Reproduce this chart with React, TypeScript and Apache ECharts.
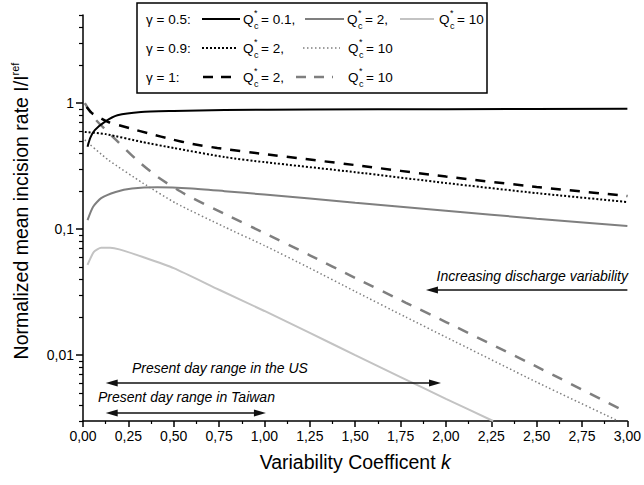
import React, { useEffect, useRef } from "react";
import * as echarts from "echarts";

const FONT = "'Liberation Sans', Arial, Helvetica, sans-serif";

// ---- data: [variability coefficient k, normalized incision rate I/I_ref]
const gamma05_Q01: [number, number][] = [
  [0.025, 0.45], [0.04, 0.53], [0.065, 0.61], [0.12, 0.71], [0.19, 0.8], [0.32, 0.85],
  [0.5, 0.865], [0.78, 0.88], [1.25, 0.89], [2.0, 0.895], [3.0, 0.9],
];
const gamma05_Q2: [number, number][] = [
  [0.025, 0.118], [0.055, 0.15], [0.1, 0.176], [0.18, 0.197], [0.27, 0.21], [0.41, 0.215],
  [0.6, 0.21], [0.78, 0.2], [1.0, 0.188], [1.5, 0.162], [2.0, 0.14], [2.5, 0.121], [3.0, 0.106],
];
const gamma05_Q10: [number, number][] = [
  [0.025, 0.052], [0.06, 0.066], [0.1, 0.071], [0.15, 0.071], [0.2, 0.069], [0.33, 0.06],
  [0.5, 0.049], [0.75, 0.033], [1.0, 0.0224], [1.25, 0.015], [1.5, 0.01], [1.75, 0.0067],
  [2.0, 0.0045], [2.26, 0.003],
];
const gamma09_Q2: [number, number][] = [
  [0.01, 0.59], [0.125, 0.567], [0.33, 0.49], [0.5, 0.44], [0.78, 0.373], [1.0, 0.34],
  [1.5, 0.283], [2.0, 0.232], [2.5, 0.193], [3.0, 0.164],
];
const gamma09_Q10: [number, number][] = [
  [0.01, 0.51], [0.14, 0.353], [0.33, 0.232], [0.51, 0.161], [0.78, 0.104], [1.0, 0.074],
  [1.25, 0.049], [1.5, 0.032], [1.78, 0.02], [2.0, 0.0139], [2.5, 0.0061], [2.95, 0.003],
];
const gamma1_Q2: [number, number][] = [
  [0.02, 0.93], [0.05, 0.83], [0.137, 0.71], [0.26, 0.63], [0.37, 0.57], [0.49, 0.515],
  [0.6, 0.475], [0.74, 0.44], [1.0, 0.394], [1.5, 0.322], [2.0, 0.261], [2.5, 0.216], [3.0, 0.183],
];
const gamma1_Q10: [number, number][] = [
  [0.01, 1.0], [0.066, 0.75], [0.176, 0.52], [0.3, 0.35], [0.41, 0.26], [0.56, 0.19],
  [0.78, 0.132], [1.0, 0.093], [1.25, 0.062], [1.5, 0.041], [1.78, 0.026], [2.0, 0.0183],
  [2.5, 0.0081], [3.0, 0.0035],
];

// ---- axes
const xMin = 0;
const xMax = 3;
const xInterval = 0.25;
const yMin = 0.003;
const yMax = 5;
const yMajorTicks = [0.01, 0.1, 1];
const yMajorLabels = ["0,01", "0,1", "1"];
const yMinorTicks = [
  0.003, 0.004, 0.005, 0.006, 0.007, 0.008, 0.009,
  0.02, 0.03, 0.04, 0.05, 0.06, 0.07, 0.08, 0.09,
  0.2, 0.3, 0.4, 0.5, 0.6, 0.7, 0.8, 0.9,
  2, 3, 4, 5,
];

// ---- annotation arrows (k range, level)
const usRange = [0.158, 1.94];
const usLevel = 0.006;
const taiwanRange = [0.158, 0.975];
const taiwanLevel = 0.00347;
const variabilityArrow = [3.0, 1.923];
const variabilityLevel = 0.0328;

const GRAY = "#7f7f7f";
const LIGHT = "#c3c3c3";

function lineSeries(name: string, data: [number, number][], color: string, width: number, type: any, extra: any = {}) {
  return {
    type: "line",
    name,
    data,
    xAxisIndex: 0,
    yAxisIndex: 0,
    symbol: "none",
    smooth: 0.2,
    clip: true,
    silent: true,
    lineStyle: { color, width, type },
    ...extra,
  };
}

function txt(x: number, y: number, text: string, size = 14, extra: any = {}) {
  return {
    type: "text",
    x,
    y,
    z: 101,
    silent: true,
    style: {
      text,
      fontSize: size,
      fontFamily: FONT,
      fill: "#000",
      align: "left",
      textAlign: "left",
      verticalAlign: "middle",
      textVerticalAlign: "middle",
      ...extra,
    },
  };
}

function qc(x: number, y: number, rest: string) {
  return [
    txt(x, y, "Q", 13.5),
    txt(x + 11, y - 6, "*", 9),
    txt(x + 11, y + 7, "c", 9),
    txt(x + 18, y, rest, 13.5),
  ];
}

function swatch(x1: number, x2: number, y: number, color: string, width: number, dash: number[] | null) {
  return {
    type: "line",
    z: 101,
    silent: true,
    shape: { x1, y1: y, x2, y2: y },
    style: { stroke: color, lineWidth: width, lineDash: dash || undefined },
  };
}

export default function App() {
  const ref = useRef<HTMLDivElement>(null);
  useEffect(() => {
    if (!ref.current) return;
    const chart = echarts.init(ref.current, undefined, { renderer: "svg" });
    const r1 = 19, r2 = 48, r3 = 77;
    const legend = [
      {
        type: "rect",
        z: 100,
        silent: true,
        shape: { x: 137, y: 3, width: 350, height: 90 },
        style: { fill: "#fff", stroke: "#000", lineWidth: 1.5 },
      },
      txt(146, r1, "γ = 0.5:", 13.5),
      swatch(202, 240, r1, "#000", 2.2, null),
      ...qc(243, r1, "= 0.1,"),
      swatch(305, 344, r1, GRAY, 2.2, null),
      ...qc(347, r1, "= 2,"),
      swatch(400, 434, r1, LIGHT, 2.2, null),
      ...qc(439, r1, "= 10"),

      txt(146, r2, "γ = 0.9:", 13.5),
      swatch(202, 238, r2, "#000", 2, [2, 2]),
      ...qc(243, r2, "= 2,"),
      swatch(303, 340, r2, GRAY, 1.5, [1.5, 2.5]),
      ...qc(348, r2, "= 10"),

      txt(146, r3, "γ = 1:", 13.5),
      swatch(203, 238, r3, "#000", 2.5, [10, 8]),
      ...qc(243, r3, "= 2,"),
      swatch(296, 333, r3, GRAY, 2.5, [10, 8]),
      ...qc(348, r3, "= 10"),
    ];

    const annotations = [
      txt(628, 276, "Increasing discharge variability", 14, { fontStyle: "italic", align: "right", textAlign: "right" }),
      txt(132, 368, "Present day range in the US", 14, { fontStyle: "italic" }),
      txt(98, 397, "Present day range in Taiwan", 14, { fontStyle: "italic" }),
    ];

    const option: any = {
      animation: false,
      backgroundColor: "#fff",
      textStyle: { fontFamily: FONT },
      grid: [
        { left: 83, right: 15, top: 15, bottom: 64 },
        { left: 83, right: 15, top: 15, bottom: 64 },
      ],
      xAxis: [
        {
          gridIndex: 0,
          type: "value",
          min: xMin,
          max: xMax,
          interval: xInterval,
          name: "Variability Coefficent {i|k}",
          nameLocation: "middle",
          nameGap: 31,
          nameTextStyle: {
            fontSize: 19.5,
            color: "#000",
            fontFamily: FONT,
            rich: { i: { fontSize: 19.5, fontStyle: "italic", color: "#000", fontFamily: FONT } },
          },
          axisLine: { show: true, onZero: false, lineStyle: { color: "#000", width: 1.5 } },
          axisTick: { show: true, inside: false, length: 6, lineStyle: { color: "#000", width: 1.5 } },
          minorTick: { show: true, splitNumber: 2, length: 3, lineStyle: { color: "#000", width: 1.2 } },
          axisLabel: {
            margin: 8,
            fontSize: 14,
            color: "#000",
            fontFamily: FONT,
            formatter: (v: number) => v.toFixed(2).replace(".", ","),
          },
          splitLine: { show: false },
          minorSplitLine: { show: false },
        },
        { gridIndex: 1, type: "value", min: xMin, max: xMax, show: false },
      ],
      yAxis: [
        {
          gridIndex: 0,
          type: "log",
          logBase: 10,
          min: yMin,
          max: yMax,
          name: "Normalized mean incision rate I/I{sup|ref}",
          nameLocation: "middle",
          nameGap: 50,
          nameTextStyle: {
            fontSize: 19.5,
            lineHeight: 24,
            padding: [0, 0, 0, 14],
            color: "#000",
            fontFamily: FONT,
            rich: { sup: { fontSize: 11, verticalAlign: "top", color: "#000", fontFamily: FONT } },
          },
          axisLine: { show: true, lineStyle: { color: "#000", width: 1.5 } },
          axisTick: { show: true, inside: false, length: 7, customValues: yMajorTicks, lineStyle: { color: "#000", width: 1.5 } },
          axisLabel: {
            margin: 9,
            fontSize: 14,
            color: "#000",
            fontFamily: FONT,
            customValues: yMajorTicks,
            formatter: (v: number) => {
              const i = yMajorTicks.findIndex((t) => Math.abs(t - v) / t < 1e-6);
              return i >= 0 ? yMajorLabels[i] : "";
            },
          },
          splitLine: { show: false },
        },
        {
          gridIndex: 1,
          type: "log",
          logBase: 10,
          min: yMin,
          max: yMax,
          axisLine: { show: false },
          axisLabel: { show: false },
          axisTick: { show: true, inside: false, length: 4, customValues: yMinorTicks, lineStyle: { color: "#000", width: 1.2 } },
          splitLine: { show: false },
        },
      ],
      series: [
        lineSeries("γ=0.5 Q=10", gamma05_Q10, LIGHT, 2, "solid"),
        lineSeries("γ=0.5 Q=2", gamma05_Q2, GRAY, 2, "solid"),
        lineSeries("γ=0.9 Q=10", gamma09_Q10, GRAY, 1.5, [1.5, 2.5]),
        lineSeries("γ=1 Q=10", gamma1_Q10, GRAY, 2.5, [11, 10]),
        lineSeries("γ=0.9 Q=2", gamma09_Q2, "#000", 2, [2, 2]),
        lineSeries("γ=1 Q=2", gamma1_Q2, "#000", 2.5, [10, 9]),
        lineSeries("γ=0.5 Q=0.1", gamma05_Q01, "#000", 2, "solid", {
          markLine: {
            silent: true,
            animation: false,
            symbol: ["triangle", "triangle"],
            symbolSize: [7, 12],
            label: { show: false },
            emphasis: { disabled: true },
            lineStyle: { color: "#111", width: 1.5, type: "solid" },
            data: [
              [
                { coord: [usRange[0], usLevel], symbol: "triangle" },
                { coord: [usRange[1], usLevel], symbol: "triangle" },
              ],
              [
                { coord: [taiwanRange[0], taiwanLevel], symbol: "triangle" },
                { coord: [taiwanRange[1], taiwanLevel], symbol: "triangle" },
              ],
              [
                { coord: [variabilityArrow[0], variabilityLevel], symbol: "none" },
                { coord: [variabilityArrow[1], variabilityLevel], symbol: "triangle" },
              ],
            ],
          },
        }),
      ],
      graphic: [...legend, ...annotations],
    };
    chart.setOption(option);
    return () => chart.dispose();
  }, []);
  return (
    <div
      ref={ref}
      style={{ position: "fixed", left: 0, top: 0, width: 644, height: 485, background: "#fff" }}
    />
  );
}
